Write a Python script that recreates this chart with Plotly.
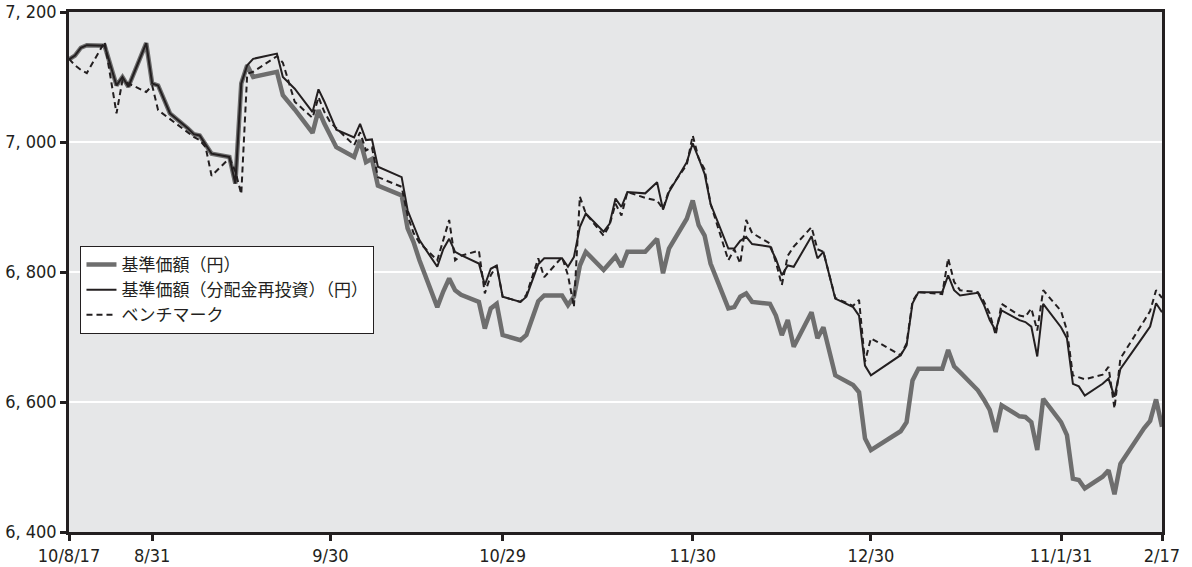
import plotly.graph_objects as go

dates = [
    "2010-08-17", "2010-08-18", "2010-08-19", "2010-08-20", "2010-08-23", "2010-08-24", "2010-08-25",
    "2010-08-26", "2010-08-27", "2010-08-30", "2010-08-31",
    "2010-09-01", "2010-09-02", "2010-09-03", "2010-09-06", "2010-09-07", "2010-09-08", "2010-09-09",
    "2010-09-10", "2010-09-13", "2010-09-14", "2010-09-15", "2010-09-16", "2010-09-17", "2010-09-21",
    "2010-09-22", "2010-09-24", "2010-09-27", "2010-09-28", "2010-09-29", "2010-09-30",
    "2010-10-01", "2010-10-04", "2010-10-05", "2010-10-06", "2010-10-07", "2010-10-08", "2010-10-12",
    "2010-10-13", "2010-10-14", "2010-10-15", "2010-10-18", "2010-10-19", "2010-10-20", "2010-10-21",
    "2010-10-22", "2010-10-25", "2010-10-26", "2010-10-27", "2010-10-28", "2010-10-29",
    "2010-11-01", "2010-11-02", "2010-11-04", "2010-11-05", "2010-11-08", "2010-11-09", "2010-11-10",
    "2010-11-11", "2010-11-12", "2010-11-15", "2010-11-16", "2010-11-17", "2010-11-18", "2010-11-19",
    "2010-11-22", "2010-11-24", "2010-11-25", "2010-11-26", "2010-11-29", "2010-11-30",
    "2010-12-01", "2010-12-02", "2010-12-03", "2010-12-06", "2010-12-07", "2010-12-08", "2010-12-09",
    "2010-12-10", "2010-12-13", "2010-12-14", "2010-12-15", "2010-12-16", "2010-12-17", "2010-12-20",
    "2010-12-21", "2010-12-22", "2010-12-24", "2010-12-27", "2010-12-28", "2010-12-29", "2010-12-30",
    "2011-01-04", "2011-01-05", "2011-01-06", "2011-01-07", "2011-01-11", "2011-01-12", "2011-01-13",
    "2011-01-14", "2011-01-17", "2011-01-18", "2011-01-19", "2011-01-20", "2011-01-21", "2011-01-24",
    "2011-01-25", "2011-01-26", "2011-01-27", "2011-01-28", "2011-01-31",
    "2011-02-01", "2011-02-02", "2011-02-03", "2011-02-04", "2011-02-07", "2011-02-08", "2011-02-09",
    "2011-02-10", "2011-02-14", "2011-02-15", "2011-02-16", "2011-02-17",
]

nav = [
    7127, 7133, 7145, 7149, 7148, 7118, 7087, 7100, 7085, 7152, 7090,
    7087, 7066, 7044, 7021, 7012, 7010, 6995, 6982, 6977, 6936, 7090, 7118, 7100, 7108,
    7072, 7050, 7014, 7049, 7028, 7008,
    6992, 6977, 7003, 6969, 6974, 6933, 6918, 6867, 6846, 6818, 6746, 6770, 6790, 6772,
    6765, 6754, 6713, 6744, 6751, 6703,
    6695, 6703, 6755, 6764, 6764, 6749, 6762, 6810, 6831, 6803, 6814, 6824, 6808, 6831,
    6831, 6851, 6798, 6836, 6882, 6910,
    6872, 6856, 6813, 6744, 6746, 6762, 6767, 6754, 6751, 6733, 6703, 6726, 6685, 6738,
    6698, 6715, 6641, 6626, 6615, 6544, 6526,
    6555, 6569, 6633, 6651, 6651, 6680, 6655, 6646, 6618, 6604, 6588, 6554, 6595, 6578,
    6577, 6569, 6526, 6605, 6569,
    6549, 6482, 6480, 6467, 6485, 6495, 6458, 6505, 6560, 6571, 6604, 6562,
]

nav_reinvested = [
    7127, 7133, 7145, 7149, 7148, 7118, 7087, 7100, 7085, 7152, 7090,
    7087, 7066, 7044, 7021, 7012, 7010, 6995, 6982, 6977, 6936, 7090, 7118, 7128, 7136,
    7100, 7082, 7046, 7081, 7062, 7040,
    7019, 7007, 7028, 7003, 7004, 6962, 6946, 6895, 6872, 6849, 6808, 6835, 6851, 6831,
    6826, 6813, 6780, 6805, 6810, 6762,
    6754, 6762, 6812, 6821, 6821, 6808, 6823, 6869, 6890, 6862, 6874, 6913, 6900, 6923,
    6921, 6938, 6896, 6923, 6969, 6998,
    6975, 6951, 6905, 6836, 6836, 6848, 6854, 6843, 6839, 6820, 6795, 6810, 6808, 6855,
    6821, 6831, 6759, 6746, 6733, 6656, 6641,
    6672, 6687, 6752, 6769, 6769, 6795, 6772, 6764, 6768, 6750, 6726, 6710, 6741, 6726,
    6723, 6716, 6670, 6751, 6715,
    6698, 6628, 6624, 6610, 6628, 6636, 6608, 6651, 6703, 6716, 6752, 6738,
]

benchmark = [
    7128, 7118, 7111, 7106, 7154, 7100, 7044, 7095, 7090, 7077, 7087,
    7049, 7042, 7035, 7015, 7008, 7003, 6992, 6948, 6975, 6955, 6920, 7105, 7108, 7132,
    7122, 7062, 7037, 7069, 7046, 7030,
    7021, 6995, 7015, 6987, 6992, 6946, 6931, 6887, 6860, 6845, 6818, 6850, 6880, 6818,
    6825, 6833, 6767, 6795, 6810, 6762,
    6754, 6765, 6821, 6792, 6823, 6795, 6746, 6916, 6890, 6856, 6872, 6905, 6887, 6923,
    6914, 6910, 6897, 6926, 6965, 7010,
    6975, 6958, 6905, 6818, 6835, 6813, 6880, 6860, 6844, 6815, 6780, 6825, 6839, 6869,
    6835, 6831, 6760, 6748, 6757, 6662, 6698,
    6672, 6690, 6755, 6769, 6766, 6821, 6785, 6772, 6769, 6755, 6736, 6703, 6751, 6733,
    6731, 6744, 6710, 6772, 6740,
    6710, 6641, 6638, 6635, 6642, 6654, 6590, 6667, 6725, 6740, 6772, 6760,
]

series_names = ["基準価額（円）", "基準価額（分配金再投資）（円）", "ベンチマーク"]

x_tick_vals = ["2010-08-17", "2010-08-31", "2010-09-30", "2010-10-29", "2010-11-30",
               "2010-12-30", "2011-01-31", "2011-02-17"]
x_tick_text = ["10/8/17", "8/31", "9/30", "10/29", "11/30", "12/30", "11/1/31", "2/17"]

y_tick_vals = [6400, 6600, 6800, 7000, 7200]
y_tick_text = ["6, 400", "6, 600", "6, 800", "7, 000", "7, 200"]

tick_font = dict(family="Liberation Sans Narrow, DejaVu Sans Condensed, Arial Narrow, sans-serif",
                 size=18, color="#231f20")

fig = go.Figure()
fig.add_trace(go.Scatter(x=dates, y=nav, mode="lines", name=series_names[0],
                         line=dict(color="#6e6e6e", width=4.5)))
fig.add_trace(go.Scatter(x=dates, y=nav_reinvested, mode="lines", name=series_names[1],
                         line=dict(color="#231f20", width=2)))
fig.add_trace(go.Scatter(x=dates, y=benchmark, mode="lines", name=series_names[2],
                         line=dict(color="#231f20", width=2, dash="6px,4px")))

fig.update_layout(
    width=1192, height=567,
    margin=dict(l=69, r=30, t=12, b=35, autoexpand=False),
    paper_bgcolor="white",
    plot_bgcolor="#e6e7e8",
    showlegend=True,
    legend=dict(
        x=0.0105, y=0.55, xanchor="left", yanchor="top",
        bgcolor="white", bordercolor="#231f20", borderwidth=1,
        font=dict(family="Noto Sans CJK JP", size=17, color="#231f20"),
        tracegroupgap=0, itemwidth=30,
    ),
    xaxis=dict(
        type="date",
        range=["2010-08-17", "2011-02-17"],
        tickvals=x_tick_vals, ticktext=x_tick_text,
        showgrid=False, zeroline=False,
        showline=True, linecolor="#231f20", linewidth=2.5, mirror=True,
        ticks="outside", ticklen=6, tickwidth=2.5, tickcolor="#231f20",
        tickfont=tick_font, automargin=False,
    ),
    yaxis=dict(
        range=[6400, 7200],
        tickvals=y_tick_vals, ticktext=y_tick_text,
        showgrid=True, gridcolor="white", gridwidth=2,
        zeroline=False,
        showline=True, linecolor="#231f20", linewidth=2.5, mirror=True,
        ticks="outside", ticklen=6, tickwidth=2.5, tickcolor="#231f20",
        tickfont=tick_font, automargin=False,
    ),
)

fig.write_html(
    "out.html",
    config={"displayModeBar": False},
    post_script="document.body.style.margin='0px';document.body.style.overflow='hidden';",
)
